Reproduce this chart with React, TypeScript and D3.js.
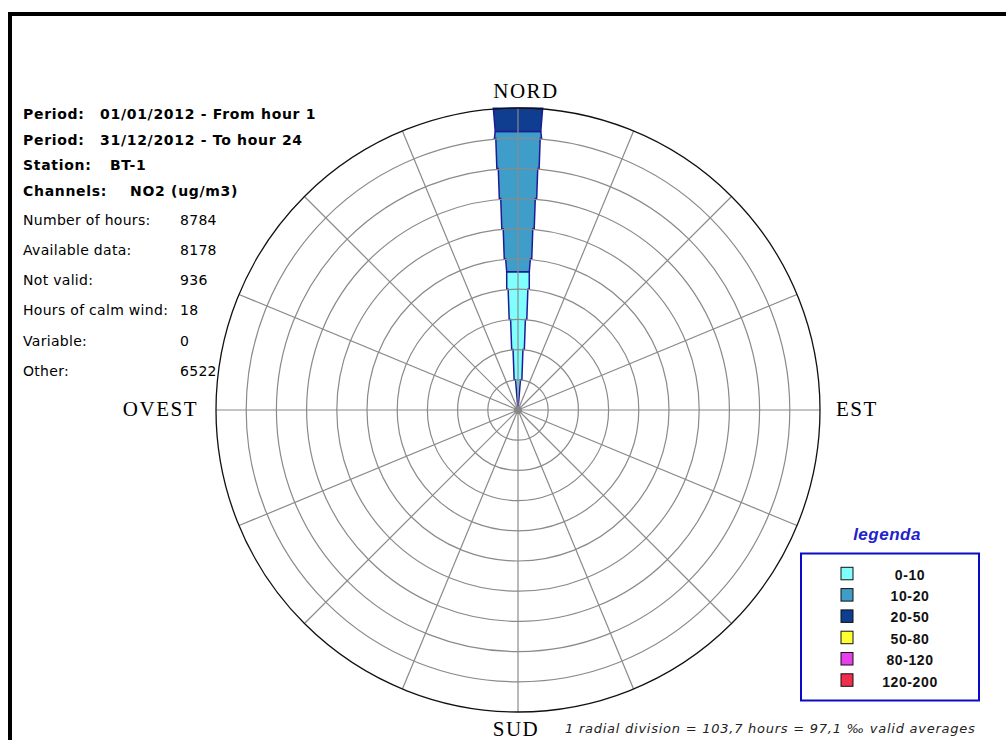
import React from "react";
import * as d3 from "d3";

// ---- data ----
const directions = ["N", "NNE", "NE", "ENE", "E", "ESE", "SE", "SSE", "S", "SSW", "SW", "WSW", "W", "WNW", "NW", "NNW"];
const classes = ["0-10", "10-20", "20-50", "50-80", "80-120", "120-200"];
const classColors = ["#80ffff", "#3f9dca", "#0f3d8f", "#ffff33", "#e83fe8", "#f0304a"];
// hours per direction for each concentration class
const hours0_10 = [475, 0, 0, 0, 0, 0, 0, 0, 0, 0, 0, 0, 0, 0, 0, 0];
const hours10_20 = [481, 0, 0, 0, 0, 0, 0, 0, 0, 0, 0, 0, 0, 0, 0, 0];
const hours20_50 = [80, 0, 0, 0, 0, 0, 0, 0, 0, 0, 0, 0, 0, 0, 0, 0];
const hours50_80 = [0, 0, 0, 0, 0, 0, 0, 0, 0, 0, 0, 0, 0, 0, 0, 0];
const hours80_120 = [0, 0, 0, 0, 0, 0, 0, 0, 0, 0, 0, 0, 0, 0, 0, 0];
const hours120_200 = [0, 0, 0, 0, 0, 0, 0, 0, 0, 0, 0, 0, 0, 0, 0, 0];
const seriesHours = [hours0_10, hours10_20, hours20_50, hours50_80, hours80_120, hours120_200];
const hoursPerDivision = 103.7;
const radialDivisions = 10;

const headerLabels = ["Period:", "Period:", "Station:", "Channels:"];
const headerValues = ["01/01/2012 - From hour 1", "31/12/2012 - To hour 24", "BT-1", "NO2 (ug/m3)"];
const statLabels = ["Number of hours:", "Available data:", "Not valid:", "Hours of calm wind:", "Variable:", "Other:"];
const statValues = ["8784", "8178", "936", "18", "0", "6522"];
const compass = ["NORD", "EST", "SUD", "OVEST"];
const footer = "1 radial division = 103,7 hours = 97,1 \u2030 valid averages";

export default function App() {
  const W = 1006, H = 740;
  const cx = 518, cy = 410, R = 302;
  const r = d3.scaleLinear().domain([0, radialDivisions * hoursPerDivision]).range([0, R]);
  const ringVals = d3.range(1, radialDivisions + 1).map((i) => i * hoursPerDivision);
  const angle = d3.scaleBand().domain(directions).range([0, 2 * Math.PI]).align(0);
  const step = (2 * Math.PI) / directions.length;
  const halfTan = Math.tan((4.67 * Math.PI) / 180);
  const d = R / radialDivisions;

  // stepped petal outline between radii r0..r1 (in px) along direction a
  const petalPath = (a: number, r0: number, r1: number) => {
    const bounds: number[] = [r0];
    for (let b = Math.ceil(r0 / d + 1e-6) * d; b < r1 - 1e-6; b += d) bounds.push(b);
    bounds.push(r1);
    const right: [number, number][] = [];
    for (let i = 0; i < bounds.length - 1; i++) {
      const a0 = bounds[i], a1 = bounds[i + 1];
      const wIn = a0 === 0 ? 0 : (Math.abs(a0 / d - Math.round(a0 / d)) < 1e-6 ? a0 * halfTan + 1.4 : a0 * halfTan);
      const wOut = a1 * halfTan;
      right.push([wIn, a0]);
      right.push([wOut, a1]);
    }
    const pts: [number, number][] = [];
    right.forEach(([w, rr]) => pts.push([w, rr]));
    right.slice().reverse().forEach(([w, rr]) => pts.push([-w, rr]));
    const rot = pts.map(([x, rr]) => {
      const px = cx + x * Math.cos(a) + rr * Math.sin(a);
      const py = cy + x * Math.sin(a) - rr * Math.cos(a);
      return [px, py] as [number, number];
    });
    return d3.line()(rot) + "Z";
  };

  const petals: { key: string; path: string; color: string }[] = [];
  directions.forEach((dir, di) => {
    const a = angle(dir) as number;
    let cum = 0;
    seriesHours.forEach((s, ci) => {
      const v = s[di];
      if (v > 0) {
        petals.push({ key: dir + ci, path: petalPath(a, r(cum), r(cum + v)), color: classColors[ci] });
      }
      cum += v;
    });
  });

  const compassPos = [
    { x: 526, y: 98, anchor: "middle" },
    { x: 836, y: 416, anchor: "start" },
    { x: 516, y: 736, anchor: "middle" },
    { x: 198, y: 416, anchor: "end" },
  ];

  const sansFont = "'DejaVu Sans', sans-serif";
  return (
    <div style={{ position: "absolute", left: 0, top: 0 }}>
      <svg width={W} height={H} style={{ display: "block", background: "#fff" }}>
        <rect x={10} y={14} width={W + 20} height={H + 20} fill="#fff" stroke="#000" strokeWidth={4} />

        {/* petals */}
        {petals.map((p) => (
          <path key={p.key} d={p.path} fill={p.color} stroke="#1c1c96" strokeWidth={1.5} strokeLinejoin="miter" />
        ))}

        {/* grid */}
        {ringVals.slice(0, -1).map((v) => (
          <circle key={v} cx={cx} cy={cy} r={r(v)} fill="none" stroke="#8a8a8a" strokeWidth={1.2} />
        ))}
        {directions.map((dir, i) => {
          const a = i * step;
          return (
            <line key={dir} x1={cx} y1={cy} x2={cx + R * Math.sin(a)} y2={cy - R * Math.cos(a)} stroke="#8a8a8a" strokeWidth={1.2} />
          );
        })}
        <circle cx={cx} cy={cy} r={r(ringVals[ringVals.length - 1])} fill="none" stroke="#111" strokeWidth={1.3} />
        <circle cx={cx} cy={cy} r={4} fill="#888" />

        {/* compass */}
        {compass.map((c, i) => (
          <text key={c} x={compassPos[i].x} y={compassPos[i].y} textAnchor={compassPos[i].anchor as any}
            fontFamily="'Liberation Serif', serif" fontSize={21} letterSpacing={1.5} fill="#000">{c}</text>
        ))}

        {/* info */}
        {headerLabels.map((l, i) => (
          <g key={"h" + i} fontFamily={sansFont} fontWeight="bold" fontSize={14} letterSpacing={0.7} fill="#000">
            <text x={23} y={119 + i * 25.6}>{l}</text>
            <text x={[100, 100, 110, 130][i]} y={119 + i * 25.6}>{headerValues[i]}</text>
          </g>
        ))}
        {statLabels.map((l, i) => (
          <g key={"s" + i} fontFamily={sansFont} fontSize={14} letterSpacing={0.3} fill="#000">
            <text x={23} y={224.5 + i * 30.3}>{l}</text>
            <text x={180} y={224.5 + i * 30.3}>{statValues[i]}</text>
          </g>
        ))}

        {/* legend */}
        <text x={887} y={540} textAnchor="middle" fontFamily="'Liberation Sans', Arial, sans-serif" fontStyle="italic" fontWeight="bold" fontSize={17} letterSpacing={0.5} fill="#2222cc">legenda</text>
        <rect x={801} y={553.5} width={178} height={147} fill="none" stroke="#0a0ac8" strokeWidth={2} />
        {classes.map((c, i) => (
          <g key={c}>
            <rect x={841} y={567.3 + i * 21.3} width={12} height={12.5} fill={classColors[i]} stroke="#111" strokeWidth={1} />
            <text x={910} y={579.5 + i * 21.4} textAnchor="middle" fontFamily="'Liberation Sans', Arial, sans-serif" fontWeight="bold" fontSize={14} letterSpacing={0.6} fill="#111">{c}</text>
          </g>
        ))}

        <text x={565} y={733} fontFamily={sansFont} fontStyle="italic" fontSize={13} letterSpacing={0.75} fill="#222">{footer}</text>
      </svg>
    </div>
  );
}
